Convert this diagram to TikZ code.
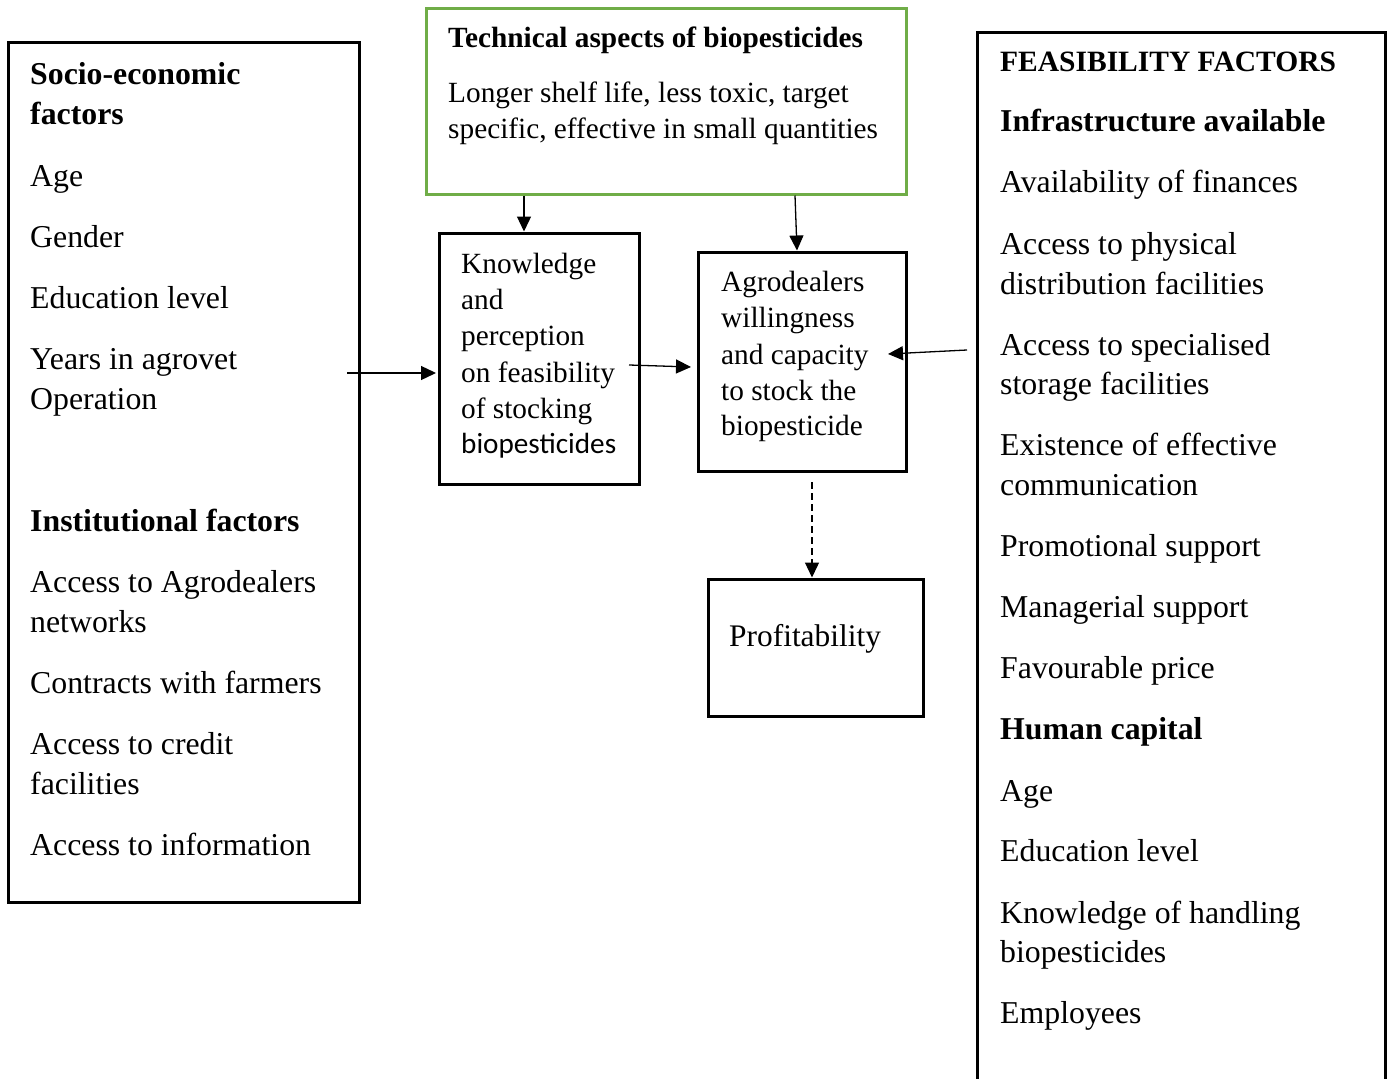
\documentclass[tikz,border=0pt]{standalone}
\usepackage{fontspec}
\setmainfont{Liberation Serif}
\newfontfamily\calib{Carlito}
\usetikzlibrary{arrows.meta}
\definecolor{boxgreen}{RGB}{112,173,71}
\tikzset{
  box/.style={draw, line width=3pt, inner sep=0pt},
  txt/.style={inner sep=0pt, anchor=base west},
  big/.style={font=\fontsize{31.8pt}{40pt}\selectfont},
  mid/.style={font=\fontsize{29.3pt}{36pt}\selectfont},
  arr/.style={line width=1.3pt, -{Triangle[length=15pt,width=14pt]}},
}
\begin{document}
\begin{tikzpicture}[x=1pt,y=-1pt]
\useasboundingbox (0,0) rectangle (1388,1078);
\clip (0,0) rectangle (1388,1078);
% boxes
\node[box, minimum width=351pt, minimum height=859pt] (lbox) at (183.5,472.5) {};
\node[box, draw=boxgreen, minimum width=480pt, minimum height=185pt] (gbox) at (666,101.5) {};
\node[box, minimum width=200pt, minimum height=251pt] (know) at (539,358.5) {};
\node[box, minimum width=208pt, minimum height=219pt] (agro) at (802,361.5) {};
\node[box, minimum width=215pt, minimum height=137pt] (prof) at (815.5,647.5) {};
\node[box, minimum width=408pt, minimum height=1067pt] (rbox) at (1181,566.5) {};
% left texts
\foreach \t/\y [count=\i] in {
  {\textbf{Socio-economic}}/85, {\textbf{factors}}/125, Age/186, Gender/247,
  Education level/308, Years in agrovet/369, Operation/409,
  {\textbf{Institutional factors}}/531, Access to Agrodealers/592, networks/632,
  Contracts with farmers/693, Access to credit/754, facilities/794,
  Access to information/855}
  \node[txt, big] (L\i) at (30,\y) {\t};
% right texts
\node[txt, font=\fontsize{29.5pt}{36pt}\selectfont\bfseries] (R0) at (1000,72) {FEASIBILITY FACTORS};
\foreach \t/\y [count=\i] in {
  {\textbf{Infrastructure available}}/132, Availability of finances/193,
  Access to physical/254, distribution facilities/294,
  Access to specialised/355, storage facilities/394,
  Existence of effective/455, communication/495,
  Promotional support/556, Managerial support/617, Favourable price/678,
  {\textbf{Human capital}}/739, Age/801, Education level/861,
  Knowledge of handling/923, biopesticides/962, Employees/1023}
  \node[txt, big] (R\i) at (1000,\y) {\t};
% green box texts
\node[txt, font=\fontsize{29.3pt}{36pt}\selectfont\bfseries] (G0) at (448,48) {Technical aspects of biopesticides};
\node[txt, mid] (G1) at (448,103) {Longer shelf life, less toxic, target};
\node[txt, mid] (G2) at (448,139) {specific, effective in small quantities};
% knowledge texts
\foreach \t/\y [count=\i] in {Knowledge/273, and/309, perception/345, on feasibility/382, of stocking/418}
  \node[txt, mid] (K\i) at (461,\y) {\t};
\node[txt, font=\fontsize{29.2pt}{36pt}\selectfont\calib] (K6) at (461,453) {biopesticides};
% agro texts
\foreach \t/\y [count=\i] in {Agrodealers/291, willingness/327, and capacity/364, to stock the/400, biopesticide/435}
  \node[txt, mid] (A\i) at (721,\y) {\t};
% profitability
\node[txt, font=\fontsize{31.4pt}{36pt}\selectfont] (P1) at (729,646) {Profitability};
% connectors
\coordinate (c1) at (347,373);
\coordinate (c2) at (629,365);
\coordinate (c3) at (967,350);
\coordinate (c4) at (888,354);
\coordinate (c5) at (691,367);
\coordinate (c6) at (436,373);
\draw[arr] (c1) -- (c6);
\draw[arr] (c2) -- (c5);
\draw[arr] (c3) -- (c4);
\draw[arr] (gbox.south -| 524,0) -- (know.north -| 524,0);
\draw[arr] (gbox.south -| 795,0) -- (agro.north -| 797,0);
\coordinate (d1) at (812,482);
\draw[arr, dashed, dash pattern=on 7pt off 4pt] (d1) -- (prof.north -| 812,0);
\end{tikzpicture}
\end{document}
